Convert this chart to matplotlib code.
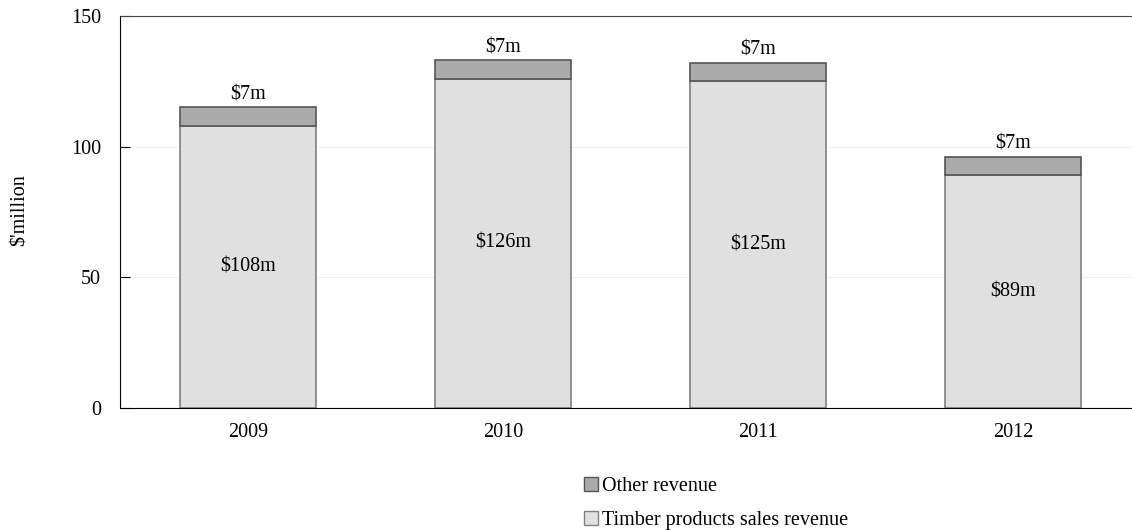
import numpy as np
import matplotlib.pyplot as plt
from matplotlib.patches import Patch

years = ['2009', '2010', '2011', '2012']
timber = [108, 126, 125, 89]
other = [7, 7, 7, 7]

plt.rcParams['font.family'] = ['Liberation Serif', 'DejaVu Serif']
plt.rcParams['font.size'] = 14.5

fig = plt.figure(figsize=(11.32, 5.30), dpi=100)
# axes runs a little past the right edge of the figure, as in the original
ax = fig.add_axes([120.5/1132, 1-408/530, 1020/1132, 392/530])

x = np.arange(len(years))
w = 0.53
ax.bar(x, timber, w, color='#e0e0e0', edgecolor='#808080', linewidth=1.2, zorder=2)
ax.bar(x, other, w, bottom=timber, color='#ababab', edgecolor='#555555', linewidth=1.2, zorder=2)

for i in range(len(years)):
    ax.text(x[i], timber[i]/2, f'${timber[i]}m', ha='center', va='center')
    ax.text(x[i], timber[i] + other[i] + 1.3, f'${other[i]}m', ha='center', va='bottom')

ax.set_xlim(-0.5, 3.5)
ax.set_ylim(0, 150)
ax.set_yticks([0, 50, 100, 150])
ax.set_xticks(x)
ax.set_xticklabels(years)
ax.tick_params(axis='x', length=0, pad=11)
ax.tick_params(axis='y', direction='in', length=7, pad=14)
ax.yaxis.grid(True, color='#f0f0f0', linewidth=0.8, zorder=0)
ax.set_axisbelow(True)
ax.spines['right'].set_visible(False)
ax.spines['top'].set_color('#444444')

fig.text(20/1132, 1-210/530, "$'million", rotation=90, ha='center', va='center')

handles = [Patch(facecolor='#ababab', edgecolor='#555555'),
           Patch(facecolor='#e0e0e0', edgecolor='#808080')]
fig.legend(handles, ['Other revenue', 'Timber products sales revenue'],
           loc='upper left', bbox_to_anchor=(584/1132, 1-477/530),
           frameon=False, handlelength=0.7, handleheight=0.7,
           handletextpad=0.2, labelspacing=0.75, borderpad=0, borderaxespad=0)

fig.savefig('out.png', dpi=100)
